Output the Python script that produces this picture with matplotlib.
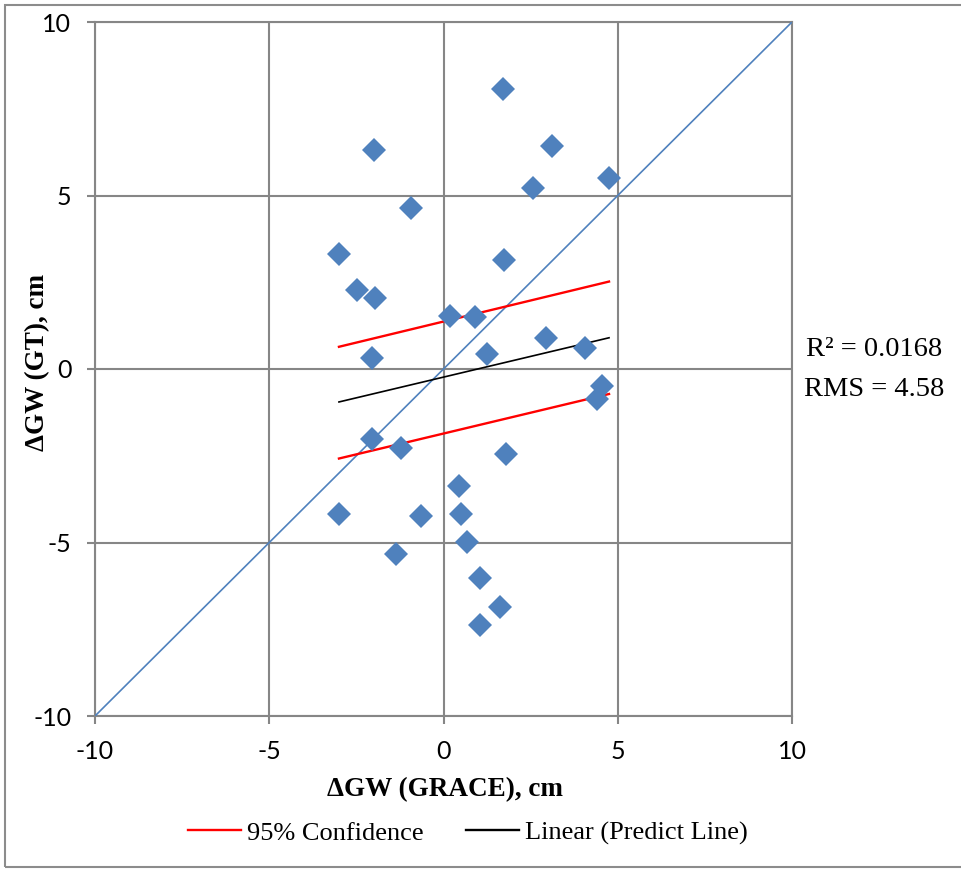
import matplotlib
matplotlib.use("Agg")
import matplotlib.pyplot as plt
from matplotlib.lines import Line2D
from matplotlib.patches import Rectangle

# Groundwater storage change: GRACE estimate vs ground truth (cm)
grace_cm = [1.71, -1.99, 3.11, 2.57, 4.75, -0.93, -3.00, 1.74, -2.48, -1.97,
            0.19, 0.90, 2.94, 4.06, -2.05, 1.25, 4.55, 4.40, -2.05, -1.22,
            1.79, 0.44, -3.00, -0.65, 0.50, 0.67, -1.36, 1.05, 1.62, 1.05]
gt_cm = [8.07, 6.31, 6.43, 5.22, 5.50, 4.64, 3.31, 3.14, 2.28, 2.05,
         1.53, 1.50, 0.89, 0.61, 0.32, 0.43, -0.49, -0.86, -2.02, -2.28,
         -2.45, -3.37, -4.18, -4.24, -4.18, -4.99, -5.33, -6.02, -6.86, -7.38]

# Regression line and 95% confidence band, over the data range
fit_x = [-3.00, 4.75]
predict_y = [-0.95, 0.90]
upper_y = [0.64, 2.52]
lower_y = [-2.58, -0.72]

# 1:1 reference line
one_to_one = [-10, 10]

ticks = [-10, -5, 0, 5, 10]
r2_text = "R² = 0.0168"
rms_text = "RMS = 4.58"

W, H = 962, 869
fig = plt.figure(figsize=(W / 100, H / 100), dpi=100)
ax = fig.add_axes([95 / W, 1 - 716 / H, 697 / W, 694 / H])

grid_col = "#868686"
blue = "#4F81BD"
serif = "Liberation Serif"

ax.plot(one_to_one, one_to_one, color=blue, lw=1.2, zorder=3)
ax.plot(fit_x, upper_y, color="#FF0000", lw=1.7, zorder=3)
ax.plot(fit_x, lower_y, color="#FF0000", lw=1.7, zorder=3)
ax.plot(fit_x, predict_y, color="black", lw=1.2, zorder=3)
ax.plot(grace_cm, gt_cm, linestyle="none", marker="D", markersize=12,
        color=blue, markeredgewidth=0, zorder=4)

ax.set_xlim(-10, 10)
ax.set_ylim(-10, 10)
ax.set_xticks(ticks)
ax.set_yticks(ticks)
ax.set_xticklabels([str(t) for t in ticks])
ax.set_yticklabels([str(t) for t in ticks])
ax.grid(True, color=grid_col, lw=1.5, zorder=1)
ax.set_axisbelow(True)
for s in ax.spines.values():
    s.set_color(grid_col)
    s.set_linewidth(1.5)
ax.tick_params(direction="out", length=6, width=1.5, color=grid_col,
               labelsize=18, pad=11)
for lab in ax.get_xticklabels() + ax.get_yticklabels():
    lab.set_family("Lato")

fig.text(445 / W, 1 - 790 / H, "ΔGW (GRACE), cm", ha="center", va="center",
         family=serif, fontweight="bold", fontsize=19.5)
fig.text(38 / W, 1 - 362 / H, "ΔGW (GT), cm", ha="center", va="center",
         rotation=90, family=serif, fontweight="bold", fontsize=19.5)

fig.text(874 / W, 1 - 349 / H, r2_text, ha="center", va="center",
         family=serif, fontsize=20.5)
fig.text(874 / W, 1 - 390 / H, rms_text, ha="center", va="center",
         family=serif, fontsize=20.5)

handles = [Line2D([], [], color="#FF0000", lw=1.7),
           Line2D([], [], color="black", lw=1.7)]
fig.legend(handles, ["95% Confidence", "Linear (Predict Line)"],
           loc="center", bbox_to_anchor=(468 / W, 1 - 833 / H), ncol=2,
           frameon=False, prop={"family": serif, "size": 19},
           handlelength=2.0, handletextpad=0.25, columnspacing=1.6)

fig.patches.append(Rectangle((5 / W, 2 / H), 1.0, 862 / H,
                             transform=fig.transFigure, fill=False,
                             edgecolor="#8c8c8c", lw=1.5))

fig.savefig("out.png", dpi=100)
